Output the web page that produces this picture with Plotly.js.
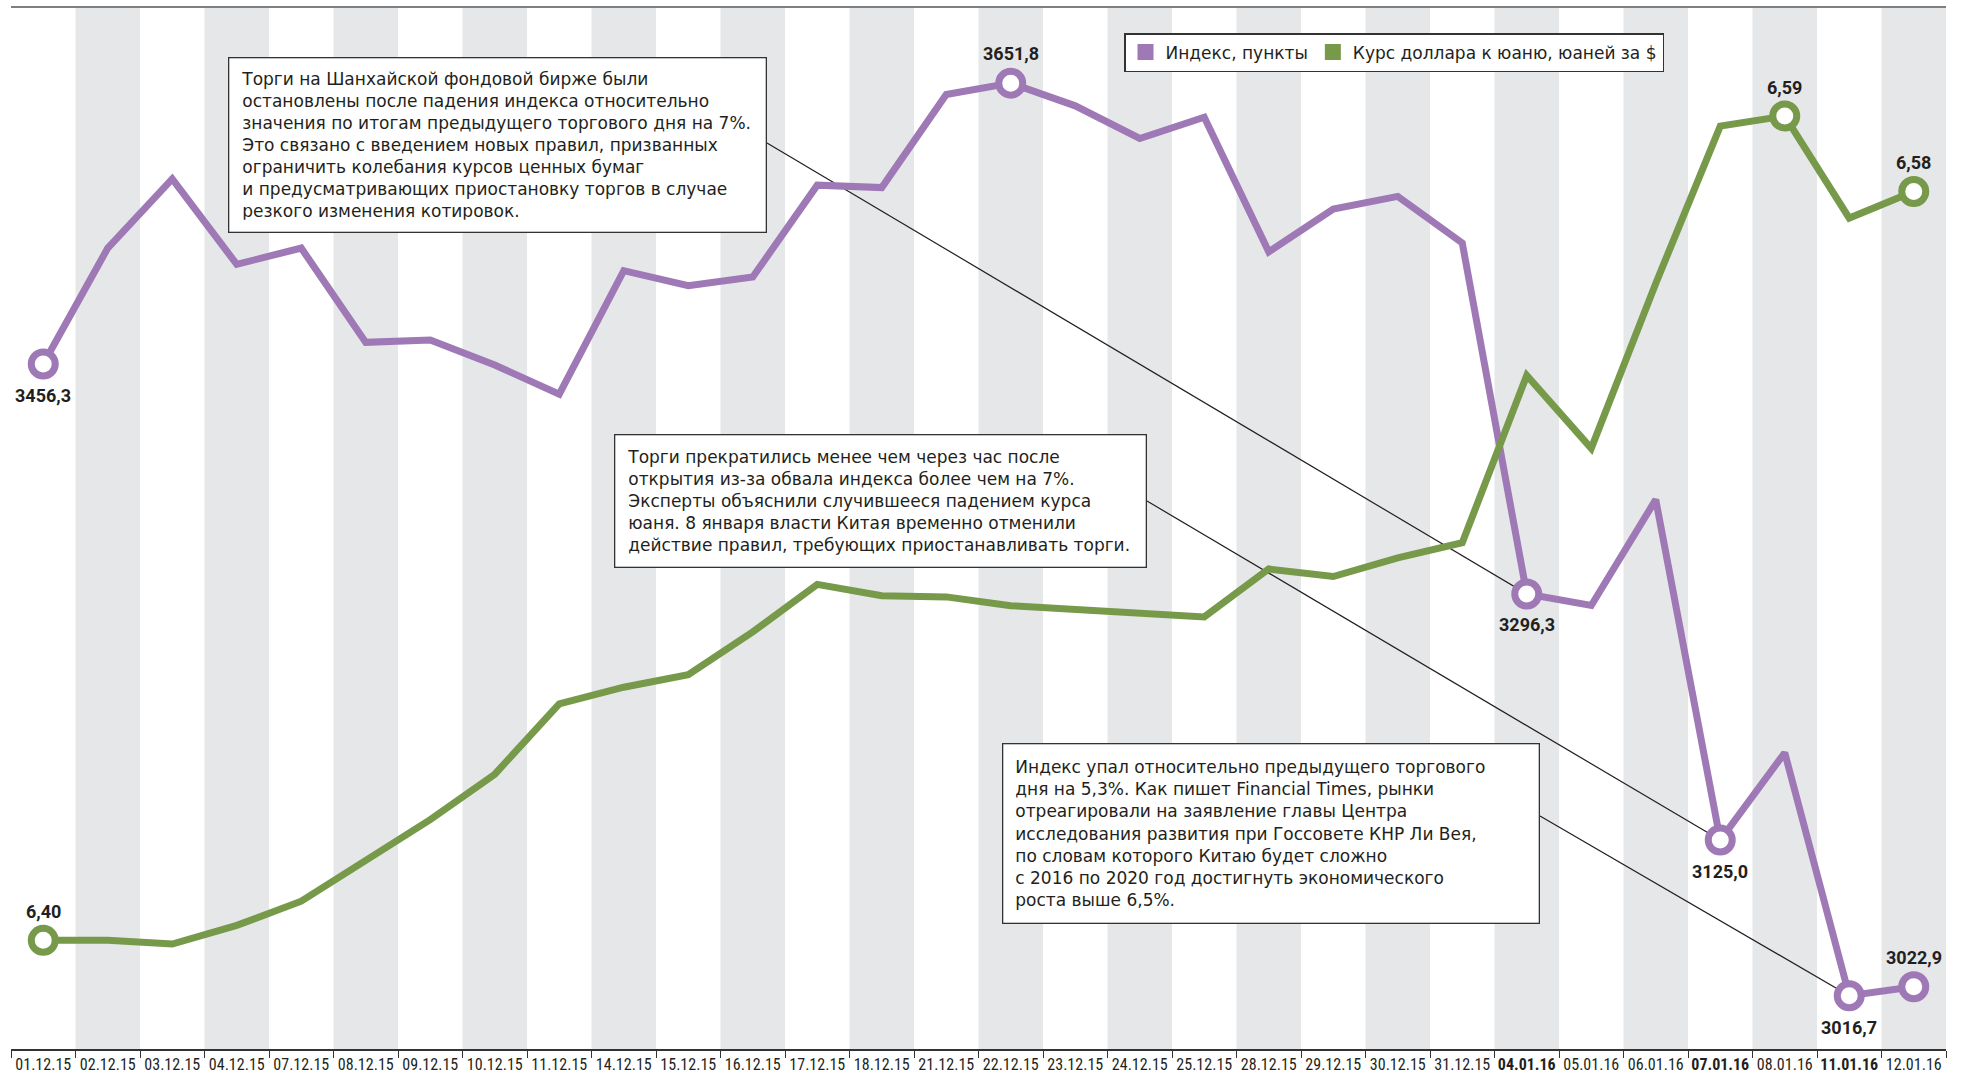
<!DOCTYPE html>
<html>
<head>
<meta charset="utf-8">
<script src="https://cdn.plot.ly/plotly-3.0.1.min.js"></script>
<style>html,body{margin:0;padding:0;background:#fff;}#chart{width:1974px;height:1074px;}</style>
</head>
<body>
<div id="chart"></div>
<script>
// ---- data ----
const dates = ["01.12.15","02.12.15","03.12.15","04.12.15","07.12.15","08.12.15","09.12.15","10.12.15","11.12.15","14.12.15",
  "15.12.15","16.12.15","17.12.15","18.12.15","21.12.15","22.12.15","23.12.15","24.12.15","25.12.15","28.12.15",
  "29.12.15","30.12.15","31.12.15","04.01.16","05.01.16","06.01.16","07.01.16","08.01.16","11.01.16","12.01.16"];
const boldDates = ["04.01.16","07.01.16","11.01.16"];
const indexPoints = [3456.3,3537.0,3585.2,3525.7,3537.0,3471.4,3473.1,3455.6,3435.4,3521.3,
  3510.8,3516.9,3580.8,3579.1,3643.9,3651.8,3636.0,3613.3,3628.1,3534.4,
  3564.2,3573.0,3540.6,3296.3,3288.3,3361.9,3125.0,3185.8,3016.7,3022.9];
const usdCny = [6.396,6.396,6.3951,6.3996,6.4054,6.4150,6.4250,6.4359,6.4528,6.4568,
  6.4598,6.4701,6.4815,6.4788,6.4785,6.4764,6.4755,6.4743,6.4737,6.4852,
  6.4834,6.4879,6.4915,6.5317,6.5142,6.5538,6.5916,6.5940,6.5695,6.5759];
const indexMarked = [0,15,23,26,28,29];
const cnyMarked = [0,27,29];
const seriesNames = ["Индекс, пункты","Курс доллара к юаню, юаней за $"];
const notes = [
  "Торги на Шанхайской фондовой бирже были<br>остановлены после падения индекса относительно<br>значения по итогам предыдущего торгового дня на 7%.<br>Это связано с введением новых правил, призванных<br>ограничить колебания курсов ценных бумаг<br>и предусматривающих приостановку торгов в случае<br>резкого изменения котировок.",
  "Торги прекратились менее чем через час после<br>открытия из-за обвала индекса более чем на 7%.<br>Эксперты объяснили случившееся падением курса<br>юаня. 8 января власти Китая временно отменили<br>действие правил, требующих приостанавливать торги.",
  "Индекс упал относительно предыдущего торгового<br>дня на 5,3%. Как пишет Financial Times, рынки<br>отреагировали на заявление главы Центра<br>исследования развития при Госсовете КНР Ли Вея,<br>по словам которого Китаю будет сложно<br>с 2016 по 2020 год достигнуть экономического<br>роста выше 6,5%."
];
const noteTargets = [23,26,28];

// ---- styling / layout ----
const PURPLE = "#9e79b6", GREEN = "#77994a", DARK = "#231f20";
const W = 1974, H = 1074, M = {l:11, r:28, t:7, b:25};
const PW = W - M.l - M.r, PH = H - M.t - M.b;
const y1Range = [2979.6, 3704.8];
const y2Range = [6.3699, 6.6202];
const textFont = "'DejaVu Sans', 'Open Sans', sans-serif";
const numFont = "Roboto, 'Liberation Sans', sans-serif";
const tickFontFamily = "'Liberation Sans Narrow', 'Roboto Condensed', Roboto, sans-serif";

const ticktext = dates.map(d => boldDates.includes(d) ? "<b>" + d + "</b>" : d);

const traces = [
  {x: dates, y: indexPoints, type: "scatter", mode: "lines", line: {color: PURPLE, width: 7}, yaxis: "y", showlegend: false, hoverinfo: "skip"},
  {x: dates, y: usdCny, type: "scatter", mode: "lines", line: {color: GREEN, width: 7}, yaxis: "y2", showlegend: false, hoverinfo: "skip"},
  {x: indexMarked.map(i => dates[i]), y: indexMarked.map(i => indexPoints[i]), type: "scatter", mode: "markers", yaxis: "y",
   marker: {symbol: "circle", size: 24, color: "#fff", line: {color: PURPLE, width: 7}}, showlegend: false, hoverinfo: "skip"},
  {x: cnyMarked.map(i => dates[i]), y: cnyMarked.map(i => usdCny[i]), type: "scatter", mode: "markers", yaxis: "y2",
   marker: {symbol: "circle", size: 24, color: "#fff", line: {color: GREEN, width: 7}}, showlegend: false, hoverinfo: "skip"},
  {x: [null], y: [null], type: "scatter", mode: "markers", name: seriesNames[0], marker: {symbol: "square", size: 22, color: PURPLE}, showlegend: true},
  {x: [null], y: [null], type: "scatter", mode: "markers", name: seriesNames[1], yaxis: "y2", marker: {symbol: "square", size: 22, color: GREEN}, showlegend: true}
];

// helpers for paper coords
const pxToPaperX = px => (px - M.l) / PW;
const pxToPaperY = py => (H - M.b - py) / PH;
const idxToPaperX = i => (i + 0.5) / dates.length;
const v1ToPaperY = v => (v - y1Range[0]) / (y1Range[1] - y1Range[0]);

const shapes = [];
dates.forEach((d, i) => {
  if (i % 2 === 1) shapes.push({type: "rect", xref: "x", yref: "paper", x0: i - 0.5, x1: i + 0.5, y0: 0, y1: 1,
    fillcolor: "#e6e7e9", line: {width: 0}, layer: "below"});
});
shapes.push({type: "line", xref: "paper", yref: "paper", x0: 0, x1: 1, y0: 1, y1: 1, line: {color: "#7f7f7f", width: 2}});

// note boxes (pixel geometry of outer boxes)
const boxes = [
  {l: 228, t: 57, w: 539, h: 176, attachY: 143},
  {l: 614, t: 434, w: 533, h: 134, attachY: 501},
  {l: 1002, t: 743, w: 538, h: 181, attachY: 816}
];
const BW = 1.3, PAD = 12;
const annotations = [];
boxes.forEach((b, k) => {
  annotations.push({
    xref: "paper", yref: "paper", x: pxToPaperX(b.l), y: pxToPaperY(b.t), xanchor: "left", yanchor: "top",
    text: notes[k], showarrow: false, align: "left", valign: "middle",
    width: b.w - 2 * (BW + PAD), height: b.h - 2 * (BW + PAD),
    bgcolor: "#fff", bordercolor: "#333", borderwidth: BW, borderpad: PAD,
    font: {family: textFont, size: 17, color: DARK}
  });
  const ti = noteTargets[k];
  shapes.push({type: "line", xref: "paper", yref: "paper", layer: "below",
    x0: pxToPaperX(b.l + b.w), y0: pxToPaperY(b.attachY),
    x1: idxToPaperX(ti), y1: v1ToPaperY(indexPoints[ti]),
    line: {color: DARK, width: 1.2}});
});

// value labels
const fmt = (v, d) => v.toFixed(d).replace(".", ",");
const indexLabelShift = {0: -31, 15: 30, 23: -31, 26: -31, 28: -32, 29: 29};
indexMarked.forEach(i => annotations.push({
  x: dates[i], y: indexPoints[i], xref: "x", yref: "y", text: "<b>" + fmt(indexPoints[i], 1) + "</b>",
  showarrow: false, yshift: indexLabelShift[i], font: {family: numFont, size: 18, color: DARK}
}));
cnyMarked.forEach(i => annotations.push({
  x: dates[i], y: usdCny[i], xref: "x", yref: "y2", text: "<b>" + fmt(usdCny[i], 2) + "</b>",
  showarrow: false, yshift: 29, font: {family: numFont, size: 18, color: DARK}
}));

const layout = {
  width: W, height: H, margin: M, paper_bgcolor: "#fff", plot_bgcolor: "rgba(0,0,0,0)",
  showlegend: true,
  legend: {orientation: "h", x: pxToPaperX(1124), y: pxToPaperY(33), xanchor: "left", yanchor: "top",
    bgcolor: "#fff", bordercolor: "#333", borderwidth: 1.5, font: {family: textFont, size: 17, color: DARK},
    itemclick: false, itemdoubleclick: false, tracegroupgap: 0},
  xaxis: {type: "category", range: [-0.5, dates.length - 0.5], tickmode: "array", tickvals: dates, ticktext: ticktext,
    ticks: "outside", tickson: "boundaries", ticklen: 7, tickwidth: 1, tickcolor: "#333",
    showline: true, linecolor: "#333", linewidth: 1.5, showgrid: false, zeroline: false, fixedrange: true,
    tickfont: {family: tickFontFamily, size: 16, color: DARK}, tickangle: 0},
  yaxis: {range: y1Range, visible: false, fixedrange: true},
  yaxis2: {range: y2Range, overlaying: "y", visible: false, fixedrange: true},
  shapes: shapes, annotations: annotations
};

Plotly.newPlot("chart", traces, layout, {displayModeBar: false, staticPlot: true});
</script>
</body>
</html>
